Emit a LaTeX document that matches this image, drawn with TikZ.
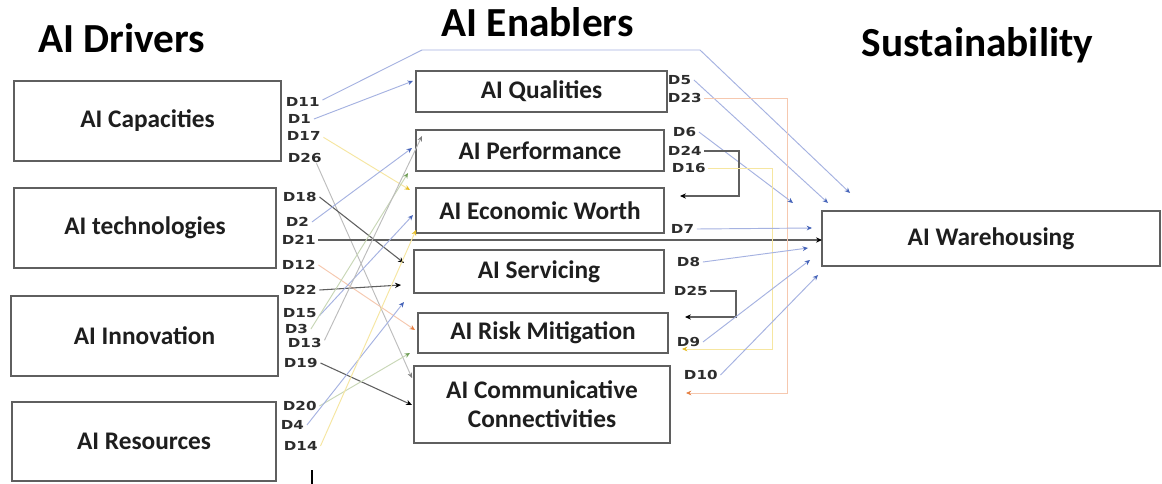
\documentclass[tikz,border=0pt]{standalone}
\usepackage{fontspec}
\setmainfont{Carlito}
\newfontfamily\labfont{DejaVu Sans}[FakeStretch=1.22]
\usetikzlibrary{arrows.meta}
\definecolor{boxgray}{RGB}{95,95,95}
\definecolor{txt}{RGB}{30,30,30}
\definecolor{labtxt}{RGB}{45,45,45}
\definecolor{lblue}{RGB}{165,178,225}
\definecolor{tipblue}{RGB}{70,100,185}
\definecolor{lyel}{RGB}{246,230,160}
\definecolor{tipyel}{RGB}{230,190,40}
\definecolor{lorg}{RGB}{246,200,175}
\definecolor{tiporg}{RGB}{230,130,70}
\definecolor{lgry}{RGB}{188,188,188}
\definecolor{tipgry}{RGB}{125,125,125}
\definecolor{lgrn}{RGB}{200,215,182}
\definecolor{tipgrn}{RGB}{115,160,90}
\definecolor{lblk}{RGB}{95,95,95}
\begin{document}
\begin{tikzpicture}[x=0.75pt,y=-0.75pt,
  box/.style={draw=boxgray, line width=1.2pt, inner sep=0pt, outer sep=0pt, fill=white,
    font=\fontsize{19}{22}\selectfont\bfseries, text=txt, align=center},
  ttl/.style={font=\fontsize{31}{34}\selectfont\bfseries, anchor=base, inner sep=0pt},
  dl/.style={font={\labfont\bfseries\fontsize{9.3}{10}\selectfont}, anchor=west, inner sep=2pt, text=labtxt},
  cblue/.style={draw=lblue, line width=0.7pt, -{Stealth[length=4pt,width=3.5pt,color=tipblue]}},
  cyel/.style={draw=lyel, line width=0.7pt, -{Stealth[length=4pt,width=3.5pt,color=tipyel]}},
  corg/.style={draw=lorg, line width=0.7pt, -{Stealth[length=4pt,width=3.5pt,color=tiporg]}},
  cgry/.style={draw=lgry, line width=0.7pt, -{Stealth[length=4pt,width=3.5pt,color=tipgry]}},
  cgrn/.style={draw=lgrn, line width=0.7pt, -{Stealth[length=4pt,width=3.5pt,color=tipgrn]}},
  cblk/.style={draw=lblk, line width=0.8pt, -{Stealth[length=4.5pt,width=4pt,color=black]}}
]
\useasboundingbox (0,0) rectangle (1162,484);
\fill[white] (0,0) rectangle (1162,484);

% titles
\node[ttl] (tdrv) at (121.5,53) {AI Drivers};
\node[ttl] (tenb) at (537.5,37) {AI Enablers};
\node[ttl] (tsus) at (977.5,57) {Sustainability};

% left boxes
\node[box, minimum width=200.25pt, minimum height=60pt] (cap) at (147.5,121) {AI Capacities};
\node[box, minimum width=196.5pt, minimum height=60pt] (tech) at (145,228) {AI technologies};
\node[box, minimum width=200.25pt, minimum height=60pt] (inno) at (144.5,336) {AI Innovation};
\node[box, minimum width=198pt, minimum height=59.25pt] (res) at (144,441.5) {AI Resources};

% middle boxes
\node[box, minimum width=188.25pt, minimum height=30.75pt] (qual) at (541.5,91.5) {AI Qualities};
\node[box, minimum width=186pt, minimum height=30.75pt] (perf) at (540,150.5) {AI Performance};
\node[box, minimum width=186pt, minimum height=33.75pt] (econ) at (540,210.5) {AI Economic Worth};
\node[box, minimum width=187.5pt, minimum height=32.25pt] (serv) at (539,271.5) {AI Servicing};
\node[box, minimum width=187.5pt, minimum height=30pt] (risk) at (543,333) {AI Risk Mitigation};
\node[box, minimum width=192pt, minimum height=57.75pt, font=\fontsize{19}{21.75}\selectfont\bfseries] (comm) at (542,404.5) {AI Communicative\\Connectivities};

% right box
\node[box, minimum width=253.5pt, minimum height=41.25pt] (ware) at (991,238.5) {AI Warehousing};

% left labels
\node[dl] (D11) at (283,102) {D11};
\node[dl] (D1)  at (285,119) {D1};
\node[dl] (D17) at (284,136) {D17};
\node[dl] (D26) at (285,158) {D26};
\node[dl] (D18) at (280,197) {D18};
\node[dl] (D2)  at (283,222) {D2};
\node[dl] (D21) at (279,240) {D21};
\node[dl] (D12) at (279,265) {D12};
\node[dl] (D22) at (280,290) {D22};
\node[dl] (D15) at (280,313) {D15};
\node[dl] (D3)  at (282,329) {D3};
\node[dl] (D13) at (285,343) {D13};
\node[dl] (D19) at (281,363) {D19};
\node[dl] (D20) at (280,406) {D20};
\node[dl] (D4)  at (278,425) {D4};
\node[dl] (D14) at (281,446) {D14};

% right labels
\node[dl] (D5)  at (665,80) {D5};
\node[dl] (D23) at (665,98) {D23};
\node[dl] (D6)  at (670,132) {D6};
\node[dl] (D24) at (665,151) {D24};
\node[dl] (D16) at (669,168) {D16};
\node[dl] (D7)  at (668,229) {D7};
\node[dl] (D8)  at (674,262) {D8};
\node[dl] (D25) at (671,291) {D25};
\node[dl] (D9)  at (674,342) {D9};
\node[dl] (D10) at (681,375) {D10};

% arrow end coordinates
\coordinate (e11) at (850,193);
\coordinate (e1)  at (413,81);
\coordinate (e17) at (410,190);
\coordinate (e26) at (412,378);
\coordinate (e18) at (404,263);
\coordinate (e2)  at (412,148);
\coordinate (e12) at (415,330);
\coordinate (e22) at (401,285);
\coordinate (e15) at (413,215);
\coordinate (e3)  at (408,173);
\coordinate (e13) at (422,136);
\coordinate (e19) at (412,405);
\coordinate (e20) at (410,353);
\coordinate (e4)  at (404,302);
\coordinate (e14) at (416,230);
\coordinate (e5)  at (828,203);
\coordinate (e23) at (686,393);
\coordinate (e6)  at (793,203);
\coordinate (e24) at (680,196);
\coordinate (e16) at (682,349);
\coordinate (e7)  at (812,228);
\coordinate (e8)  at (808,248);
\coordinate (e25) at (685,317);
\coordinate (e9)  at (810,260);
\coordinate (e10) at (818,275);

% left connectors
\draw[cblue] ([yshift=1.5pt]D11.east) -- (422,50) -- (700,50) -- (e11);
\draw[cblue] (D1.east) -- (e1);
\draw[cyel] ([yshift=-1pt]D17.east) -- (e17);
\draw[cgry] ([xshift=-6pt,yshift=-4pt]D26.east) -- (e26);
\draw[cblk] (D18.east) -- (e18);
\draw[cblue] (D2.east) -- (e2);
\draw[cblk] (D21.east) -- (D21.east -| ware.west);
\draw[corg] (D12.east) -- (e12);
\draw[cblk] (D22.east) -- (e22);
\draw[cblue] ([yshift=-2pt]D15.east) -- (e15);
\draw[cgrn] (D3.east) -- (e3);
\draw[cgry] ([yshift=2pt]D13.east) -- (e13);
\draw[cblk] (D19.east) -- (e19);
\draw[cgrn] (D20.east) -- (e20);
\draw[cblue] (D4.east) -- (e4);
\draw[cyel] (D14.east) -- (e14);

% right connectors
\draw[cblue] (D5.east) -- (e5);
\draw[corg] (D23.east) -- (787,98) -- (787,393) -- (e23);
\draw[cblue] (D6.east) -- (e6);
\draw[cblk] (D24.east) -- (739,151) -- (739,196) -- (e24);
\draw[cyel] (D16.east) -- (772,168) -- (772,349) -- (e16);
\draw[cblue] (D7.east) -- (e7);
\draw[cblue] (D8.east) -- (e8);
\draw[cblk] (D25.east) -- (736,291) -- (736,317) -- (e25);
\draw[cblue] (D9.east) -- (e9);
\draw[cblue] (D10.east) -- (e10);

% small tick at bottom
\draw[black, line width=0.8pt] (312,470) -- (312,484);
\end{tikzpicture}
\end{document}
